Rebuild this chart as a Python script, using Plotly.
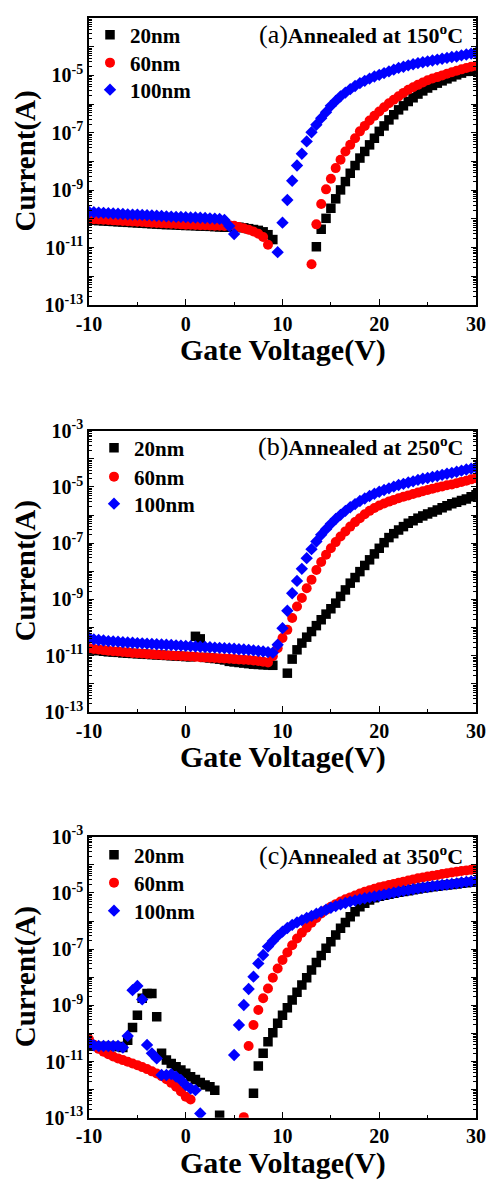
import plotly.graph_objects as go

# Gate voltage sweep (V)
V = [-10, -9.5, -9, -8.5, -8, -7.5, -7, -6.5, -6, -5.5,
     -5, -4.5, -4, -3.5, -3, -2.5, -2, -1.5, -1, -0.5,
     0, 0.5, 1, 1.5, 2, 2.5, 3, 3.5, 4, 4.5,
     5, 5.5, 6, 6.5, 7, 7.5, 8, 8.5, 9, 9.5,
     10, 10.5, 11, 11.5, 12, 12.5, 13, 13.5, 14, 14.5,
     15, 15.5, 16, 16.5, 17, 17.5, 18, 18.5, 19, 19.5,
     20, 20.5, 21, 21.5, 22, 22.5, 23, 23.5, 24, 24.5,
     25, 25.5, 26, 26.5, 27, 27.5, 28, 28.5, 29, 29.5,
     30]

# log10(Current / A); None = point not shown (negative / off-scale)
# (a) annealed at 150 C
logI_a_20nm = [-10.04, -10.05, -10.06, -10.07, -10.08, -10.09, -10.10, -10.11, -10.12, -10.13,
               -10.14, -10.15, -10.16, -10.17, -10.18, -10.19, -10.20, -10.20, -10.21, -10.22,
               -10.23, -10.23, -10.24, -10.25, -10.25, -10.26, -10.27, -10.28, -10.29, -10.28,
               -10.28, -10.29, -10.31, -10.34, -10.37, -10.40, -10.45, -10.55, -10.72, None,
               None, None, None, None, None, None, None, -10.97, -10.36, -9.98,
               -9.63, -9.30, -8.99, -8.70, -8.41, -8.14, -7.88, -7.65, -7.42, -7.19,
               -6.95, -6.76, -6.55, -6.37, -6.20, -6.06, -5.91, -5.78, -5.65, -5.54,
               -5.44, -5.35, -5.27, -5.19, -5.12, -5.05, -4.98, -4.92, -4.86, -4.82,
               -4.78]
logI_a_60nm = [-10.00, -10.01, -10.02, -10.03, -10.04, -10.05, -10.06, -10.07, -10.08, -10.09,
               -10.10, -10.11, -10.12, -10.13, -10.14, -10.15, -10.16, -10.17, -10.18, -10.19,
               -10.20, -10.20, -10.21, -10.22, -10.22, -10.23, -10.24, -10.24, -10.25, -10.22,
               -10.24, -10.28, -10.33, -10.38, -10.44, -10.52, -10.63, -10.90, None, None,
               None, None, None, None, None, None, -11.58, -10.19, -9.48, -8.97,
               -8.60, -8.23, -7.94, -7.65, -7.42, -7.19, -6.95, -6.76, -6.57, -6.41,
               -6.26, -6.11, -5.97, -5.85, -5.73, -5.61, -5.50, -5.41, -5.33, -5.25,
               -5.17, -5.11, -5.06, -5.00, -4.94, -4.89, -4.84, -4.79, -4.74, -4.70,
               -4.66]
logI_a_100nm = [-9.76, -9.77, -9.78, -9.79, -9.80, -9.81, -9.82, -9.83, -9.84, -9.85,
                -9.85, -9.86, -9.87, -9.88, -9.89, -9.90, -9.91, -9.92, -9.93, -9.93,
                -9.94, -9.95, -9.95, -9.96, -9.97, -9.98, -9.99, -10.00, -10.04, -10.25,
                -10.53, None, None, None, None, None, None, None, None, -11.16,
                -10.13, -9.34, -8.67, -8.14, -7.73, -7.30, -6.98, -6.72, -6.49, -6.28,
                -6.06, -5.89, -5.73, -5.60, -5.48, -5.37, -5.27, -5.19, -5.11, -5.04,
                -4.98, -4.92, -4.86, -4.80, -4.74, -4.70, -4.65, -4.61, -4.57, -4.54,
                -4.51, -4.48, -4.45, -4.42, -4.39, -4.36, -4.34, -4.30, -4.27, -4.24,
                -4.22]

# (b) annealed at 250 C
logI_b_20nm = [-10.78, -10.80, -10.82, -10.84, -10.86, -10.87, -10.88, -10.90, -10.91, -10.92,
               -10.93, -10.94, -10.95, -10.96, -10.97, -10.98, -10.99, -11.00, -11.01, -11.02,
               -11.03, -11.04, -10.31, -10.40, -11.06, -11.08, -11.10, -11.12, -11.15, -11.20,
               -11.22, -11.24, -11.26, -11.28, -11.30, -11.31, -11.32, -11.33, -11.34, None,
               None, -11.62, -11.12, -10.79, -10.55, -10.34, -10.14, -9.93, -9.72, -9.52,
               -9.33, -9.13, -8.89, -8.66, -8.42, -8.22, -8.01, -7.79, -7.59, -7.38,
               -7.18, -6.98, -6.80, -6.66, -6.53, -6.41, -6.29, -6.20, -6.11, -6.03,
               -5.96, -5.89, -5.82, -5.74, -5.67, -5.60, -5.54, -5.48, -5.43, -5.35,
               -5.28]
logI_b_60nm = [-10.73, -10.76, -10.78, -10.80, -10.82, -10.84, -10.85, -10.87, -10.88, -10.90,
               -10.91, -10.92, -10.94, -10.95, -10.96, -10.97, -10.98, -10.99, -11.00, -11.01,
               -11.02, -11.03, -11.04, -11.05, -11.06, -11.07, -11.08, -11.09, -11.10, -11.11,
               -11.12, -11.13, -11.14, -11.15, -11.17, -11.19, -11.21, -11.24, -11.02, -10.73,
               -10.37, -10.08, -9.66, -9.25, -8.95, -8.60, -8.30, -7.95, -7.67, -7.41,
               -7.18, -6.96, -6.76, -6.58, -6.41, -6.25, -6.11, -5.97, -5.85, -5.75,
               -5.66, -5.59, -5.52, -5.46, -5.40, -5.35, -5.30, -5.25, -5.20, -5.15,
               -5.11, -5.06, -5.02, -4.98, -4.94, -4.91, -4.87, -4.82, -4.78, -4.73,
               -4.69]
logI_b_100nm = [-10.37, -10.42, -10.44, -10.46, -10.48, -10.49, -10.50, -10.52, -10.53, -10.54,
                -10.55, -10.56, -10.57, -10.58, -10.59, -10.60, -10.61, -10.62, -10.63, -10.64,
                -10.65, -10.66, -10.67, -10.68, -10.69, -10.70, -10.71, -10.72, -10.73, -10.74,
                -10.75, -10.77, -10.78, -10.79, -10.81, -10.83, -10.85, -10.87, -10.89, -10.61,
                -10.02, -9.40, -8.78, -8.34, -7.91, -7.53, -7.21, -6.94, -6.70, -6.50,
                -6.31, -6.14, -5.99, -5.85, -5.72, -5.61, -5.50, -5.41, -5.32, -5.24,
                -5.17, -5.11, -5.05, -4.99, -4.93, -4.89, -4.84, -4.80, -4.75, -4.71,
                -4.68, -4.64, -4.61, -4.57, -4.53, -4.50, -4.46, -4.42, -4.38, -4.35,
                -4.31]

# (c) annealed at 350 C
logI_c_20nm = [-10.45, -10.45, -10.47, -10.47, -10.47, -10.47, -10.47, -10.50, -10.24, -9.79,
               -9.35, -8.75, -8.58, -8.58, -9.41, -10.71, -10.95, -11.07, -11.19, -11.30,
               -11.42, -11.54, -11.64, -11.75, -11.84, -11.90, -12.02, -12.91, None, None,
               None, None, None, None, -12.13, -11.16, -10.71, -10.30, -9.98, -9.64,
               -9.35, -9.09, -8.81, -8.54, -8.28, -8.02, -7.74, -7.48, -7.23, -6.97,
               -6.74, -6.50, -6.26, -6.05, -5.85, -5.67, -5.49, -5.37, -5.25, -5.17,
               -5.12, -5.08, -5.05, -5.01, -4.98, -4.95, -4.92, -4.89, -4.86, -4.83,
               -4.81, -4.78, -4.76, -4.74, -4.72, -4.70, -4.68, -4.66, -4.64, -4.62,
               -4.60]
logI_c_60nm = [-10.21, -10.40, -10.55, -10.65, -10.74, -10.82, -10.89, -10.95, -11.01, -11.07,
               -11.13, -11.20, -11.27, -11.35, -11.43, -11.52, -11.63, -11.76, -11.90, -12.07,
               -12.25, -12.35, None, None, None, None, None, None, None, None,
               None, None, -12.98, -10.45, -9.70, -9.17, -8.75, -8.40, -8.02, -7.69,
               -7.39, -7.12, -6.86, -6.62, -6.42, -6.24, -6.06, -5.89, -5.73, -5.61,
               -5.49, -5.40, -5.31, -5.23, -5.16, -5.09, -5.02, -4.96, -4.91, -4.85,
               -4.80, -4.76, -4.72, -4.68, -4.64, -4.60, -4.56, -4.52, -4.48, -4.45,
               -4.42, -4.39, -4.36, -4.33, -4.30, -4.27, -4.25, -4.22, -4.20, -4.18,
               -4.16]
logI_c_100nm = [-10.35, -10.42, -10.45, -10.45, -10.45, -10.45, -10.45, -10.50, -10.09, -8.46,
                -8.31, -8.79, -10.41, -10.71, -10.89, -11.48, -11.48, -11.45, -11.54, -11.66,
                -11.84, -11.96, -12.02, -12.85, None, None, None, None, None, None,
                -10.77, -9.70, -8.99, -8.42, -7.98, -7.51, -7.21, -6.91, -6.71, -6.53,
                -6.38, -6.25, -6.14, -6.05, -5.97, -5.89, -5.82, -5.74, -5.67, -5.60,
                -5.53, -5.47, -5.41, -5.36, -5.31, -5.27, -5.23, -5.19, -5.16, -5.13,
                -5.10, -5.06, -5.03, -4.99, -4.96, -4.93, -4.90, -4.87, -4.84, -4.81,
                -4.79, -4.76, -4.74, -4.72, -4.70, -4.68, -4.66, -4.63, -4.61, -4.59,
                -4.57]

series_names = ["20nm", "60nm", "100nm"]
panel_labels = ["(a)", "(b)", "(c)"]
anneal_temps = ["150", "250", "350"]
x_tickvals = [-10, 0, 10, 20, 30]
y_exponents = [-3, -4, -5, -6, -7, -8, -9, -10, -11, -12, -13]

panel_data = [
    [logI_a_20nm, logI_a_60nm, logI_a_100nm],
    [logI_b_20nm, logI_b_60nm, logI_b_100nm],
    [logI_c_20nm, logI_c_60nm, logI_c_100nm],
]

# ---- styling / layout (target pixels in the 498 x 1180 page) ----
PAGE_OFF = 8                      # default body margin of the html page
W, H = 498 - PAGE_OFF, 1180 - PAGE_OFF
FONT = "Liberation Serif"
symbols = ["square", "circle", "diamond"]
sizes = [9.5, 10, 9.5]
colors = ["#000000", "#ff0000", "#0000ff"]
X0, X1 = 89, 476
plot_tops = [18, 430.7, 836.7]
plot_bots = [305, 712, 1117.7]
legend_rows = [[35, 63, 90], [448, 477, 504], [855, 883, 911]]
legend_marker_x = [110, 114, 114]
title_y = [35, 447, 855]


def px(x):
    return (x - PAGE_OFF) / W


def py(y):
    return 1 - (y - PAGE_OFF) / H


fig = go.Figure()

for p in range(3):
    sfx = "" if p == 0 else str(p + 1)
    for s in range(3):
        k = p * 3 + s
        lname = "legend" if k == 0 else f"legend{k + 1}"
        yvals = [None if v is None else 10 ** v for v in panel_data[p][s]]
        fig.add_trace(go.Scatter(
            x=V, y=yvals, mode="markers", name=series_names[s],
            marker=dict(symbol=symbols[s], size=sizes[s], color=colors[s],
                        line=dict(width=0)),
            xaxis="x" + sfx, yaxis="y" + sfx, legend=lname, showlegend=True,
        ))
        fig.update_layout(**{lname: dict(
            x=px(legend_marker_x[p] - 20), xanchor="left",
            y=py(legend_rows[p][s]), yanchor="middle",
            bgcolor="rgba(0,0,0,0)", borderwidth=0,
            font=dict(family=FONT, size=21, color="black", weight="bold"),
        )})

    ytext = [f"10<sup>{e}</sup>" if e % 2 != 0 else "" for e in y_exponents]
    minor_y = [m * 10 ** e for e in range(-13, -3) for m in range(2, 10)]
    fig.update_layout(**{
        "xaxis" + sfx: dict(
            domain=[px(X0), px(X1)], anchor="y" + sfx, range=[-10, 30],
            automargin=False,
            showline=True, linecolor="black", linewidth=1.5, mirror=True,
            ticks="inside", ticklen=6, tickwidth=1.2, tickcolor="black",
            tickvals=x_tickvals, ticktext=[str(v) for v in x_tickvals],
            tickfont=dict(family=FONT, size=20, color="black", weight="bold"),
            minor=dict(ticks="inside", ticklen=3, tickwidth=1, tickcolor="black",
                       tickvals=[-5, 5, 15, 25]),
            showgrid=False, zeroline=False,
        ),
        "yaxis" + sfx: dict(
            domain=[py(plot_bots[p]), py(plot_tops[p])], anchor="x" + sfx,
            type="log", range=[-13, -3], automargin=False,
            showline=True, linecolor="black", linewidth=1.5, mirror="ticks",
            ticks="inside", ticklen=5, tickwidth=1.2, tickcolor="black",
            tickvals=[10 ** e for e in y_exponents], ticktext=ytext,
            tickfont=dict(family=FONT, size=20, color="black", weight="bold"),
            minor=dict(ticks="inside", ticklen=3, tickwidth=1, tickcolor="black",
                       tickvals=minor_y),
            showgrid=False, zeroline=False,
        ),
    })

    # axis titles
    fig.add_annotation(
        text="Current(A)", textangle=-90, xref="paper", yref="paper",
        x=px(25), y=py((plot_tops[p] + plot_bots[p]) / 2),
        xanchor="center", yanchor="middle", showarrow=False,
        font=dict(family=FONT, size=29, color="black", weight="bold"),
    )
    fig.add_annotation(
        text="Gate Voltage(V)", xref="paper", yref="paper",
        x=px((X0 + X1) / 2), y=py(plot_bots[p] + 45),
        xanchor="center", yanchor="middle", showarrow=False,
        font=dict(family=FONT, size=30, color="black", weight="bold"),
    )
    fig.add_annotation(
        text=(f'<span style="font-weight:normal;font-size:26px">{panel_labels[p]}</span>'
              f'<b>Annealed at {anneal_temps[p]}<sup>o</sup>C</b>'),
        xref="paper", yref="paper", x=px(465), y=py(title_y[p]),
        xanchor="right", yanchor="middle", showarrow=False,
        font=dict(family=FONT, size=22, color="black"),
    )

fig.update_layout(
    width=W, height=H, margin=dict(l=0, r=0, t=0, b=0),
    paper_bgcolor="white", plot_bgcolor="white",
    font=dict(family=FONT, color="black"),
)

fig.write_html("out.html")
